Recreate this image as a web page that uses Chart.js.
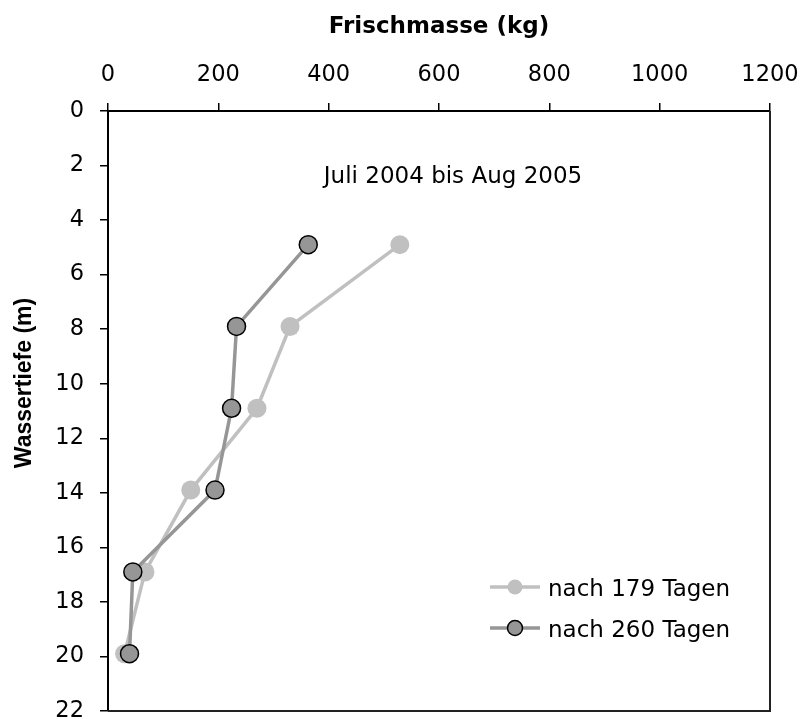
<!DOCTYPE html>
<html lang="de">
<head>
    <meta charset="UTF-8">
    <title>Frischmasse nach Wassertiefe</title>
    <script src="https://cdn.jsdelivr.net/npm/chart.js"></script>
    <style>
        body {
            margin: 0;
            background: #ffffff;
        }
        canvas {
            display: block;
        }
    </style>
</head>
<body>
    <canvas id="chart" width="801" height="719"></canvas>

    <script>
        // Data
        const depths = [4.9, 7.9, 10.9, 13.9, 16.9, 19.9];        // Wassertiefe (m)
        const mass179 = [529, 330, 270, 150, 67, 30];             // nach 179 Tagen
        const mass260 = [363, 233, 224, 194, 45, 39];             // nach 260 Tagen
        const seriesNames = ['nach 179 Tagen', 'nach 260 Tagen'];
        const xTicks = [0, 200, 400, 600, 800, 1000, 1200];
        const yTicks = [0, 2, 4, 6, 8, 10, 12, 14, 16, 18, 20, 22];
        const xTitle = 'Frischmasse (kg)';
        const yTitle = 'Wassertiefe (m)';
        const note = 'Juli 2004 bis Aug 2005';

        const tickFont = { family: 'DejaVu Sans', size: 22.5 };

        // keep the plot box fixed: no extra room for overhanging tick labels
        function fixBox(s, size) {
            if (s.isHorizontal()) s.height = size; else s.width = size;
            s.paddingLeft = s.paddingRight = s.paddingTop = s.paddingBottom = 0;
        }

        // right/bottom frame, y title, note and legend
        const extras = {
            id: 'extras',
            afterDraw(chart) {
                const ctx = chart.ctx;
                const a = chart.chartArea;
                ctx.save();

                ctx.strokeStyle = '#222';
                ctx.lineWidth = 2;
                ctx.beginPath();
                ctx.moveTo(a.right, a.top);
                ctx.lineTo(a.right, a.bottom);
                ctx.lineTo(a.left, a.bottom);
                ctx.stroke();

                ctx.fillStyle = '#000';
                ctx.save();
                ctx.translate(25, 383);
                ctx.rotate(-Math.PI / 2);
                ctx.font = 'bold 23px "Liberation Sans"';
                ctx.textAlign = 'center';
                ctx.textBaseline = 'middle';
                ctx.fillText(yTitle, 0, 0);
                ctx.restore();

                ctx.font = '23px "DejaVu Sans"';
                ctx.textAlign = 'center';
                ctx.textBaseline = 'alphabetic';
                ctx.fillText(note, 453, 183);

                // legend
                const rows = [587, 628];
                chart.data.datasets.forEach((ds, i) => {
                    const y = rows[i];
                    ctx.strokeStyle = ds.borderColor;
                    ctx.lineWidth = ds.borderWidth;
                    ctx.beginPath();
                    ctx.moveTo(490, y);
                    ctx.lineTo(540, y);
                    ctx.stroke();

                    ctx.beginPath();
                    ctx.arc(515, y, 7.5, 0, Math.PI * 2);
                    ctx.fillStyle = ds.pointBackgroundColor;
                    ctx.fill();
                    if (ds.pointBorderWidth > 0) {
                        ctx.strokeStyle = ds.pointBorderColor;
                        ctx.lineWidth = ds.pointBorderWidth;
                        ctx.stroke();
                    }

                    ctx.fillStyle = '#000';
                    ctx.textAlign = 'left';
                    ctx.font = '23px "DejaVu Sans"';
                    ctx.fillText(ds.label, 548, y + 9);
                });
                ctx.restore();
            }
        };

        const chart = new Chart(document.getElementById('chart'), {
            type: 'scatter',
            data: {
                datasets: [
                    {
                        label: seriesNames[0],
                        data: depths.map((d, i) => ({ x: mass179[i], y: d })),
                        showLine: true,
                        borderColor: '#c0c0c0',
                        borderWidth: 3.5,
                        pointRadius: 9.5,
                        pointBackgroundColor: '#c0c0c0',
                        pointBorderColor: '#c0c0c0',
                        pointBorderWidth: 0,
                        order: 1
                    },
                    {
                        label: seriesNames[1],
                        data: depths.map((d, i) => ({ x: mass260[i], y: d })),
                        showLine: true,
                        borderColor: '#969696',
                        borderWidth: 3.5,
                        pointRadius: 9,
                        pointBackgroundColor: '#969696',
                        pointBorderColor: '#000000',
                        pointBorderWidth: 1.5,
                        order: 0
                    }
                ]
            },
            options: {
                responsive: false,
                animation: false,
                layout: {
                    autoPadding: false,
                    padding: { left: 0, top: 0, right: 31, bottom: 8 }
                },
                plugins: {
                    legend: { display: false },
                    tooltip: { enabled: false }
                },
                scales: {
                    x: {
                        type: 'linear',
                        position: 'top',
                        min: xTicks[0],
                        max: xTicks[xTicks.length - 1],
                        afterBuildTicks: s => { s.ticks = xTicks.map(v => ({ value: v })); },
                        afterFit: s => fixBox(s, 111),
                        ticks: { color: '#000', font: tickFont, padding: 14, maxRotation: 0, callback: v => String(v) },
                        grid: { drawOnChartArea: false, tickLength: 8, color: '#000', lineWidth: 1.5 },
                        border: { color: '#000', width: 2 },
                        title: {
                            display: true,
                            text: xTitle,
                            color: '#000',
                            font: { family: 'DejaVu Sans', size: 23, weight: 'bold' },
                            padding: { top: 13, bottom: 0 }
                        }
                    },
                    y: {
                        type: 'linear',
                        reverse: true,
                        min: yTicks[0],
                        max: yTicks[yTicks.length - 1],
                        afterBuildTicks: s => { s.ticks = yTicks.map(v => ({ value: v })); },
                        afterFit: s => fixBox(s, 108),
                        ticks: { color: '#000', font: tickFont, padding: 16, callback: v => String(v) },
                        grid: { drawOnChartArea: false, tickLength: 8, color: '#000', lineWidth: 1.5 },
                        border: { color: '#000', width: 2 }
                    }
                }
            },
            plugins: [extras]
        });
    </script>
</body>
</html>
